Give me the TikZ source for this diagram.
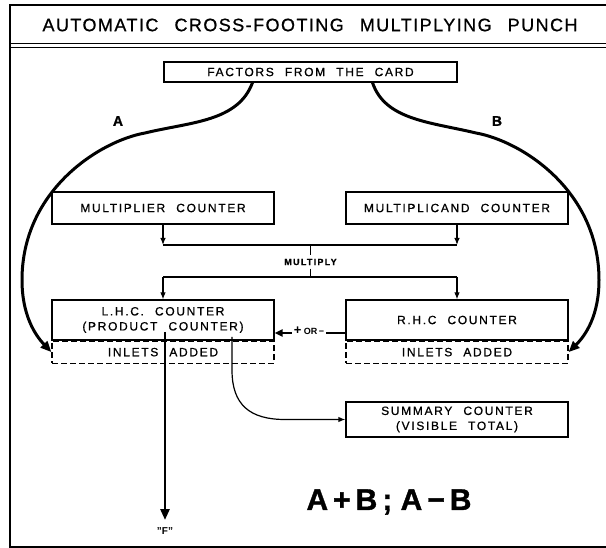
\documentclass[tikz,border=0pt]{standalone}
\usepackage{fontspec}
\setmainfont{Liberation Sans}
\newfontfamily\boxfont{Liberation Sans}[LetterSpace=14,WordSpace=2.2,FakeBold=0.8]
\newfontfamily\titlefont{Liberation Sans}[LetterSpace=8,WordSpace=2.5,FakeBold=0.8]
\newfontfamily\heavyfont{Liberation Sans}[FakeBold=1.2]
\usetikzlibrary{positioning,calc,arrows.meta}

\tikzset{
  counter/.style={draw, line width=1.2pt, minimum width=222pt, inner sep=0pt, align=center,
    font=\boxfont\fontsize{12}{15}\selectfont},
  inlets/.style={draw, dash pattern=on 6pt off 3pt, line width=1.1pt, minimum width=222pt, minimum height=22pt,
    inner sep=0pt, font=\boxfont\fontsize{12}{15}\selectfont},
  tag/.style={font=\boxfont\bfseries\fontsize{9}{10}\selectfont},
  feed/.style={line width=3pt, -{Triangle[length=11pt,width=9pt]}},
  link/.style={line width=1.2pt, -{Latex[length=7pt,width=5.5pt]}},
}

\begin{document}
\begin{tikzpicture}[x=1pt,y=-1pt]
    \useasboundingbox (0,0) rectangle (606,548);
    % Frame and heading
    \draw[line width=1.8pt] (606,5) -- (10,5) -- (10,547) -- (606,547);
    \draw[line width=0.9pt] (10,43) -- (606,43) (10,47) -- (606,47);
    \node (title) at (310,25) {\titlefont\fontsize{18}{20}\selectfont AUTOMATIC CROSS-FOOTING MULTIPLYING PUNCH};

    % Counters
    \node[counter, minimum width=293pt, minimum height=20pt] (card) at (310.5,72) {FACTORS FROM THE CARD};
    \node[counter, minimum height=32pt] (mplier) at (163,208) {MULTIPLIER COUNTER};
    \node[counter, minimum height=32pt] (mcand) at (457,208) {MULTIPLICAND COUNTER};
    \node[counter, minimum height=40pt] (lhc) at (163,320) {L.H.C. COUNTER\\(PRODUCT COUNTER)};
    \node[counter, minimum height=40pt] (rhc) at (457,320) {R.H.C COUNTER};
    \node[inlets, below=0pt of lhc] (linlets) {INLETS ADDED};
    \node[inlets, below=0pt of rhc] (rinlets) {INLETS ADDED};
    \node[counter, minimum height=35pt] (summary) at (457,419.5) {SUMMARY COUNTER\\(VISIBLE TOTAL)};

    % Multiply
    \coordinate (join) at (310.5,245);
    \coordinate (split) at (310.5,277);
    \node[tag] (multiply) at (310.5,262) {MULTIPLY};
    \draw[link] (mplier.south) -- (mplier.south |- join);
    \draw[link] (mcand.south) -- (mcand.south |- join);
    \draw[line width=1.2pt] (mplier.south |- join) -- (mcand.south |- join);
    \draw[line width=1.2pt] (join) -- (multiply) -- (split);
    \draw[line width=1.2pt] (lhc.north |- split) -- (rhc.north |- split);
    \draw[link] (lhc.north |- split) -- (lhc.north);
    \draw[link] (rhc.north |- split) -- (rhc.north);

    % Factors A and B
    \draw[feed] ([xshift=-58pt]card.south) .. controls (238,122) and (190,122) .. (145,133)
        .. controls (100,141) and (22,190) .. (22,280)
        .. controls (22,315) and (35,335) .. (linlets.west);
    \draw[feed] ([xshift=62pt]card.south) .. controls (385,120) and (430,122) .. (476,133)
        .. controls (521,141) and (599,190) .. (599,280)
        .. controls (599,315) and (586,335) .. (rinlets.east);
    \node[font=\heavyfont\bfseries\fontsize{14}{14}\selectfont] (labA) at (118,121) {A};
    \node[font=\heavyfont\bfseries\fontsize{14}{14}\selectfont] (labB) at (497,121) {B};

    % + or - into the product counter
    \coordinate (pmrow) at (310,333);
    \draw[line width=2pt, -{Triangle[length=8pt,width=7pt]}] (rhc.west |- pmrow) -- (lhc.east |- pmrow);
    \node[fill=white, inner sep=1.5pt, font=\bfseries\fontsize{9}{10}\selectfont] (pm) at (309,331)
        {\fontsize{13}{10}\selectfont+\fontsize{9}{10}\selectfont\ OR\,−};

    % Product out and summary
    \coordinate (pstart) at (165,332);
    \node[font=\bfseries\fontsize{10}{12}\selectfont] (F) at (165,531) {"F"};
    \draw[line width=2.6pt, -{Triangle[length=11pt,width=9pt]}, shorten >=4pt] (pstart) -- (F.north);
    \coordinate (sstart) at (232,337);
    \draw[link] (sstart) -- (232,370) .. controls (232,405) and (250,419.5) .. (285,419.5) -- (summary.west);

    \node[font=\heavyfont\bfseries\fontsize{30}{32}\selectfont] (sum) at (389,502) {A\,+\,B\,;\ A\,−\,B};
\end{tikzpicture}
\end{document}
